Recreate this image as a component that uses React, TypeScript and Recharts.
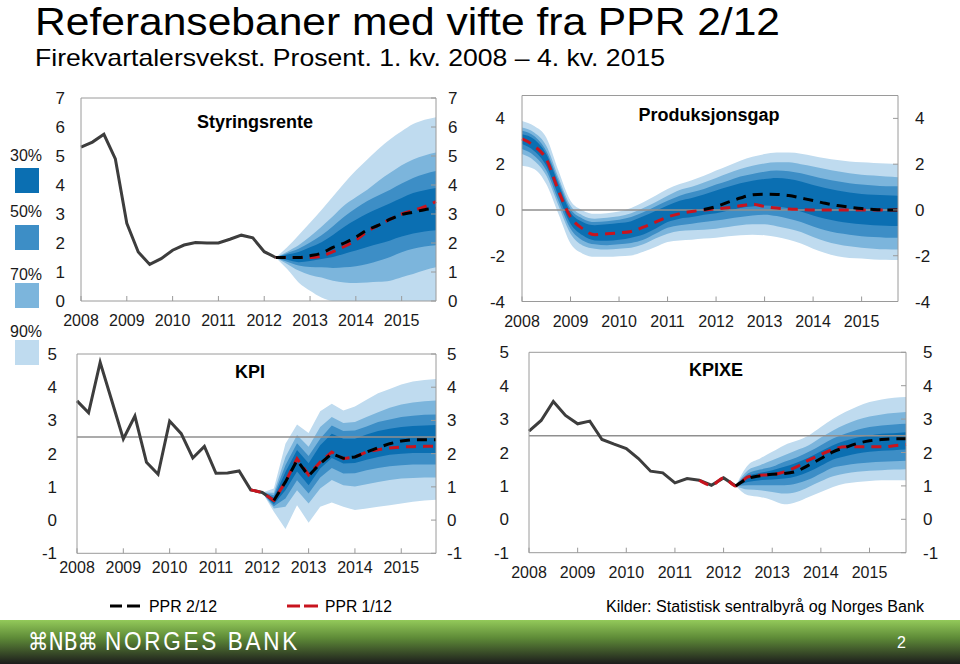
import React from 'react';
import { ComposedChart, Area, Line, XAxis, YAxis, ReferenceLine } from 'recharts';

const years = ['2008', '2009', '2010', '2011', '2012', '2013', '2014', '2015'];
const yearTicks = [0, 4, 8, 12, 16, 20, 24, 28];
const nQuarters = 32;

// Styringsrente (quarter index 0 = 1. kv. 2008)
const rateHistory = [5.31, 5.48, 5.75, 4.9, 2.68, 1.69, 1.26, 1.46, 1.75, 1.93, 2.02, 2.0, 2.0, 2.13, 2.27, 2.18, 1.7, 1.5];
const rateFanStart = 17;
const rateNew = [1.5, 1.5, 1.5, 1.56, 1.65, 1.85, 2.0, 2.2, 2.45, 2.62, 2.82, 2.98, 3.06, 3.15, 3.2];
const rateOld = [1.5, 1.5, 1.5, 1.5, 1.55, 1.7, 1.88, 2.1, 2.4, 2.62, 2.82, 3.0, 3.12, 3.25, 3.43];
const rateBands = {
  u90: [1.5, 1.85, 2.27, 2.7, 3.14, 3.6, 4.07, 4.5, 4.88, 5.25, 5.58, 5.85, 6.1, 6.25, 6.34],
  u70: [1.5, 1.7, 1.92, 2.22, 2.56, 2.92, 3.3, 3.58, 3.84, 4.15, 4.42, 4.68, 4.88, 5.02, 5.12],
  u50: [1.5, 1.65, 1.8, 2.02, 2.27, 2.58, 2.91, 3.2, 3.45, 3.65, 3.84, 4.05, 4.24, 4.38, 4.48],
  u30: [1.5, 1.6, 1.69, 1.85, 2.03, 2.28, 2.56, 2.8, 3.02, 3.2, 3.37, 3.55, 3.72, 3.82, 3.9],
  l30: [1.5, 1.42, 1.34, 1.38, 1.45, 1.52, 1.63, 1.74, 1.86, 1.97, 2.09, 2.22, 2.33, 2.4, 2.44],
  l50: [1.5, 1.35, 1.22, 1.17, 1.16, 1.14, 1.16, 1.2, 1.28, 1.39, 1.52, 1.68, 1.8, 1.88, 1.92],
  l70: [1.5, 1.28, 1.05, 0.9, 0.81, 0.7, 0.64, 0.62, 0.64, 0.66, 0.7, 0.82, 0.93, 1.06, 1.16],
  l90: [1.5, 1.1, 0.64, 0.35, 0.12, 0, 0, 0, 0, 0, 0, 0, 0, 0, 0],
};

// Produksjonsgap
const gapOld = [3.1, 2.8, 2.22, 0.85, -0.31, -0.82, -1.08, -1.04, -1.0, -0.94, -0.75, -0.53, -0.31, -0.16, -0.07, 0.0, 0.05, 0.1, 0.18, 0.25, 0.15, 0.08, 0.04, 0.02, 0.0, 0.0, 0.0, 0.0, 0.0, 0.0, 0.0, 0.0];
const gapNewStart = 15;
const gapNew = [0.02, 0.15, 0.34, 0.52, 0.66, 0.69, 0.68, 0.63, 0.52, 0.41, 0.29, 0.19, 0.12, 0.06, 0.02, 0.0, 0.0];
const gapBands = {
  u90: [3.89, 3.67, 3.17, 1.72, 0.4, -0.02, -0.17, -0.14, -0.07, 0.09, 0.34, 0.62, 0.91, 1.13, 1.3, 1.49, 1.72, 1.93, 2.15, 2.32, 2.44, 2.51, 2.51, 2.46, 2.36, 2.26, 2.18, 2.12, 2.08, 2.05, 2.03, 2.0],
  u70: [3.6, 3.38, 2.8, 1.43, 0.19, -0.24, -0.38, -0.34, -0.28, -0.14, 0.09, 0.34, 0.62, 0.87, 1.01, 1.2, 1.4, 1.6, 1.79, 1.93, 2.03, 2.08, 2.08, 2.0, 1.9, 1.79, 1.69, 1.6, 1.54, 1.5, 1.46, 1.43],
  u50: [3.46, 3.23, 2.58, 1.28, 0.04, -0.38, -0.53, -0.49, -0.43, -0.31, -0.1, 0.15, 0.4, 0.62, 0.77, 0.91, 1.11, 1.28, 1.46, 1.57, 1.67, 1.72, 1.69, 1.6, 1.47, 1.35, 1.25, 1.17, 1.11, 1.07, 1.04, 1.03],
  u30: [3.31, 3.09, 2.44, 1.13, -0.1, -0.53, -0.67, -0.63, -0.57, -0.49, -0.28, -0.05, 0.19, 0.4, 0.52, 0.67, 0.85, 1.01, 1.17, 1.28, 1.35, 1.4, 1.35, 1.24, 1.09, 0.96, 0.85, 0.76, 0.7, 0.66, 0.64, 0.62],
  l30: [2.88, 2.58, 1.93, 0.62, -0.6, -1.11, -1.33, -1.35, -1.3, -1.21, -1.07, -0.82, -0.53, -0.38, -0.31, -0.21, -0.14, -0.02, 0.09, 0.15, 0.19, 0.15, 0.07, -0.07, -0.24, -0.38, -0.49, -0.57, -0.63, -0.67, -0.69, -0.7],
  l50: [2.66, 2.37, 1.72, 0.4, -0.82, -1.33, -1.5, -1.54, -1.5, -1.44, -1.3, -1.04, -0.78, -0.67, -0.6, -0.53, -0.46, -0.38, -0.31, -0.24, -0.21, -0.27, -0.38, -0.53, -0.72, -0.89, -1.01, -1.08, -1.15, -1.18, -1.21, -1.22],
  l70: [2.44, 2.15, 1.5, 0.19, -1.04, -1.55, -1.69, -1.73, -1.69, -1.65, -1.5, -1.25, -1.04, -0.92, -0.89, -0.86, -0.82, -0.75, -0.67, -0.63, -0.63, -0.71, -0.82, -0.96, -1.18, -1.37, -1.5, -1.59, -1.65, -1.69, -1.72, -1.73],
  l90: [1.93, 1.79, 1.13, -0.17, -1.47, -1.91, -2.05, -2.05, -2.02, -1.99, -1.83, -1.62, -1.4, -1.33, -1.3, -1.25, -1.21, -1.15, -1.11, -1.08, -1.11, -1.18, -1.3, -1.47, -1.69, -1.88, -2.02, -2.1, -2.12, -2.16, -2.18, -2.19],
};

// KPI
const kpiHistory = [3.59, 3.23, 4.75, 3.6, 2.44, 3.13, 1.74, 1.38, 2.98, 2.6, 1.87, 2.22, 1.41, 1.42, 1.48, 0.91, 0.83, 0.59];
const kpiOldStart = 15;
const kpiOld = [0.91, 0.83, 0.59, 1.15, 1.85, 1.36, 1.75, 2.05, 1.85, 1.9, 2.05, 2.12, 2.17, 2.2, 2.21, 2.22, 2.22];
const kpiNewStart = 17;
const kpiNew = [0.59, 1.15, 1.8, 1.33, 1.7, 2.0, 1.86, 1.9, 2.05, 2.18, 2.3, 2.38, 2.42, 2.42, 2.42];
const kpiFanStart = 16;
const kpiBands = {
  u90: [0.83, 0.95, 2.3, 2.88, 2.62, 3.28, 3.5, 3.3, 3.42, 3.62, 3.82, 3.95, 4.08, 4.17, 4.22, 4.25],
  u70: [0.83, 0.82, 1.9, 2.56, 2.21, 2.8, 3.1, 2.92, 2.95, 3.1, 3.25, 3.38, 3.48, 3.54, 3.58, 3.6],
  u50: [0.83, 0.75, 1.65, 2.31, 1.93, 2.45, 2.85, 2.68, 2.7, 2.82, 2.95, 3.03, 3.1, 3.14, 3.17, 3.18],
  u30: [0.83, 0.68, 1.45, 2.11, 1.71, 2.25, 2.6, 2.45, 2.45, 2.58, 2.68, 2.75, 2.8, 2.83, 2.85, 2.86],
  l30: [0.83, 0.48, 0.9, 1.46, 1.05, 1.55, 1.87, 1.7, 1.72, 1.82, 1.9, 1.97, 2.0, 2.02, 2.02, 2.02],
  l50: [0.83, 0.42, 0.65, 1.2, 0.8, 1.28, 1.57, 1.4, 1.41, 1.5, 1.57, 1.62, 1.65, 1.67, 1.67, 1.67],
  l70: [0.83, 0.35, 0.4, 0.9, 0.5, 0.95, 1.21, 1.05, 1.01, 1.08, 1.15, 1.21, 1.25, 1.27, 1.28, 1.28],
  l90: [0.83, 0.25, -0.27, 0.45, -0.08, 0.4, 0.53, 0.4, 0.3, 0.35, 0.4, 0.45, 0.5, 0.55, 0.59, 0.61],
};

// KPIXE
const kpixeHistory = [2.64, 2.96, 3.53, 3.11, 2.86, 2.94, 2.39, 2.25, 2.12, 1.82, 1.44, 1.39, 1.09, 1.22, 1.17, 1.02, 1.24, 1.0];
const kpixeOldStart = 14;
const kpixeOld = [1.17, 1.02, 1.24, 1.0, 1.27, 1.32, 1.34, 1.42, 1.57, 1.77, 1.94, 2.09, 2.17, 2.17, 2.17, 2.17, 2.2, 2.24];
const kpixeFanStart = 17;
const kpixeNew = [1.0, 1.22, 1.3, 1.35, 1.37, 1.44, 1.62, 1.82, 2.02, 2.15, 2.27, 2.35, 2.39, 2.41, 2.41];
const kpixeBands = {
  u90: [1.0, 1.62, 1.82, 2.02, 2.22, 2.35, 2.51, 2.76, 3.01, 3.21, 3.38, 3.51, 3.59, 3.64, 3.66],
  u70: [1.0, 1.47, 1.62, 1.77, 1.92, 2.07, 2.22, 2.45, 2.66, 2.84, 2.98, 3.08, 3.14, 3.18, 3.21],
  u50: [1.0, 1.37, 1.49, 1.57, 1.72, 1.85, 2.02, 2.22, 2.42, 2.56, 2.68, 2.76, 2.81, 2.84, 2.86],
  u30: [1.0, 1.29, 1.39, 1.47, 1.57, 1.69, 1.85, 2.04, 2.22, 2.35, 2.45, 2.51, 2.56, 2.58, 2.61],
  l30: [1.0, 1.12, 1.17, 1.19, 1.22, 1.29, 1.42, 1.6, 1.79, 1.89, 1.97, 2.02, 2.05, 2.07, 2.09],
  l50: [1.0, 1.02, 1.02, 1.02, 1.02, 1.07, 1.19, 1.37, 1.55, 1.62, 1.67, 1.7, 1.72, 1.74, 1.75],
  l70: [1.0, 0.89, 0.87, 0.82, 0.77, 0.82, 0.97, 1.14, 1.29, 1.37, 1.42, 1.45, 1.47, 1.49, 1.5],
  l90: [1.0, 0.72, 0.67, 0.57, 0.45, 0.52, 0.67, 0.82, 0.97, 1.07, 1.12, 1.15, 1.17, 1.17, 1.17],
};

const C30 = '#0b6fb2';
const C50 = '#3d8ec6';
const C70 = '#7cb5dc';
const C90 = '#bfdbef';
const AXIS = '#9a9a9a';
const HIST = '#3d3d3d';
const RED = '#c8141e';
const FONT = '"Liberation Sans", Arial, sans-serif';

const makeRows = () => Array.from({ length: nQuarters }, (_, i) => ({ x: i } as any));
const put = (rows: any[], key: string, start: number, values: number[]) => {
  values.forEach((v, j) => { rows[start + j][key] = v; });
};
const putBands = (rows: any[], start: number, b: any) => {
  const sets: [string, number[], number[]][] = [
    ['b90', b.l90, b.u90], ['b70', b.l70, b.u70], ['b50', b.l50, b.u50], ['b30', b.l30, b.u30],
  ];
  sets.forEach(([key, lo, hi]) => lo.forEach((v, j) => { rows[start + j][key] = [v, hi[j]]; }));
};

const rateRows = makeRows();
put(rateRows, 'hist', 0, rateHistory);
put(rateRows, 'old', rateFanStart, rateOld);
put(rateRows, 'new', rateFanStart, rateNew);
putBands(rateRows, rateFanStart, rateBands);

const gapRows = makeRows();
put(gapRows, 'old', 0, gapOld);
put(gapRows, 'new', gapNewStart, gapNew);
putBands(gapRows, 0, gapBands);

const kpiRows = makeRows();
put(kpiRows, 'hist', 0, kpiHistory);
put(kpiRows, 'old', kpiOldStart, kpiOld);
put(kpiRows, 'new', kpiNewStart, kpiNew);
putBands(kpiRows, kpiFanStart, kpiBands);

const kpixeRows = makeRows();
put(kpixeRows, 'hist', 0, kpixeHistory);
put(kpixeRows, 'old', kpixeOldStart, kpixeOld);
put(kpixeRows, 'new', kpixeFanStart, kpixeNew);
putBands(kpixeRows, kpixeFanStart, kpixeBands);

const xTickStyle = { fontSize: 16, fill: '#1a1a1a', fontFamily: FONT };
const yTickStyle = { fontSize: 17, fill: '#1a1a1a', fontFamily: FONT };

function Panel(props: any) {
  const { rows, box, margin, domain, yTicks, curve, xGap, leftGap, rightGap, refs } = props;
  const bands: [string, string][] = [['b90', C90], ['b70', C70], ['b50', C50], ['b30', C30]];
  return (
    <div style={{ position: 'absolute', left: box.left, top: box.top }}>
      <ComposedChart width={box.width} height={box.height} data={rows} margin={margin}>
        <XAxis dataKey="x" type="number" domain={[0, 31]} ticks={yearTicks} interval={0}
          tickFormatter={(v: number) => years[v / 4]} tickSize={-5} tickMargin={xGap}
          height={30} stroke={AXIS} tick={xTickStyle} />
        <YAxis yAxisId="l" type="number" domain={domain} ticks={yTicks} interval={0}
          tickLine={false} tickSize={0} tickMargin={leftGap} width={40} stroke={AXIS}
          tick={yTickStyle} allowDataOverflow />
        <YAxis yAxisId="r" orientation="right" type="number" domain={domain} ticks={yTicks}
          interval={0} tickSize={-5} tickMargin={rightGap} width={40} stroke={AXIS}
          tick={yTickStyle} allowDataOverflow />
        <ReferenceLine yAxisId="l" y={domain[1]} stroke={AXIS} />
        {bands.map(([key, color]) => (
          <Area key={key} yAxisId="l" dataKey={key} type={curve} stroke="none" fill={color}
            fillOpacity={1} dot={false} activeDot={false} isAnimationActive={false} />
        ))}
        {refs.map((r: number) => (
          <ReferenceLine key={r} yAxisId="l" y={r} stroke="#8f8f8f" strokeWidth={1.5} />
        ))}
        <Line yAxisId="l" dataKey="hist" type="linear" stroke={HIST} strokeWidth={3}
          dot={false} activeDot={false} isAnimationActive={false} />
        <Line yAxisId="l" dataKey="old" type={curve} stroke={RED} strokeWidth={3}
          strokeDasharray="10 7" dot={false} activeDot={false} isAnimationActive={false} />
        <Line yAxisId="l" dataKey="new" type={curve} stroke="#000" strokeWidth={3}
          strokeDasharray="10 7" dot={false} activeDot={false} isAnimationActive={false} />
      </ComposedChart>
    </div>
  );
}

function Overlay() {
  const swatches: [string, string, number, number][] = [
    ['30%', C30, 161, 168], ['50%', C50, 217, 225], ['70%', C70, 280, 283], ['90%', C90, 337, 340],
  ];
  return (
    <svg width={960} height={664} style={{ position: 'absolute', left: 0, top: 0, pointerEvents: 'none' }}
      fontFamily={FONT}>
      <defs>
        <linearGradient id="foot" x1="0" y1="0" x2="0" y2="1">
          <stop offset="0" stopColor="#93c95a" />
          <stop offset="0.4" stopColor="#5f8c38" />
          <stop offset="1" stopColor="#1c1c1c" />
        </linearGradient>
      </defs>
      <text x={35} y={35} fontSize={38} fill="#000" textLength={745} lengthAdjust="spacingAndGlyphs">
        Referansebaner med vifte fra PPR 2/12
      </text>
      <text x={35} y={66} fontSize={24} fill="#000" textLength={630} lengthAdjust="spacingAndGlyphs">
        Firekvartalersvekst. Prosent. 1. kv. 2008 – 4. kv. 2015
      </text>
      {swatches.map(([label, color, ty, ry]) => (
        <g key={label}>
          <text x={10} y={ty} fontSize={16} fill="#1a1a1a">{label}</text>
          <rect x={15} y={ry} width={24} height={25} fill={color} />
        </g>
      ))}
      <text x={255} y={128} fontSize={18} fontWeight="bold" textAnchor="middle">Styringsrente</text>
      <text x={709} y={121} fontSize={18} fontWeight="bold" textAnchor="middle">Produksjonsgap</text>
      <text x={250} y={378} fontSize={18} fontWeight="bold" textAnchor="middle">KPI</text>
      <text x={716} y={376} fontSize={18} fontWeight="bold" textAnchor="middle">KPIXE</text>
      <line x1={110} y1={606} x2={122} y2={606} stroke="#000" strokeWidth={3} />
      <line x1={127} y1={606} x2={140} y2={606} stroke="#000" strokeWidth={3} />
      <text x={149} y={612} fontSize={16} textLength={68} lengthAdjust="spacingAndGlyphs">PPR 2/12</text>
      <line x1={287} y1={606} x2={300} y2={606} stroke={RED} strokeWidth={3} />
      <line x1={304} y1={606} x2={318} y2={606} stroke={RED} strokeWidth={3} />
      <text x={325} y={612} fontSize={16} textLength={67} lengthAdjust="spacingAndGlyphs">PPR 1/12</text>
      <text x={606} y={612} fontSize={16} textLength={318} lengthAdjust="spacingAndGlyphs">
        Kilder: Statistisk sentralbyrå og Norges Bank
      </text>
      <rect x={0} y={620} width={960} height={44} fill="url(#foot)" />
      <text x={28} y={650} fontSize={24} fill="#fff" fontFamily='"DejaVu Sans", sans-serif'
        textLength={70} lengthAdjust="spacingAndGlyphs">⌘NB⌘</text>
      <text x={105} y={650} fontSize={25} fill="#fff" letterSpacing={3} textLength={195}
        lengthAdjust="spacingAndGlyphs">NORGES BANK</text>
      <text x={897} y={648} fontSize={16} fill="#fff">2</text>
    </svg>
  );
}

export default function App() {
  return (
    <div style={{ position: 'absolute', left: 0, top: 0, width: 960, height: 664, background: '#fff', overflow: 'hidden' }}>
      <Panel rows={rateRows} box={{ left: 0, top: 80, width: 480, height: 260 }}
        margin={{ top: 18, right: 4, bottom: 9, left: 41 }} domain={[0, 7]} yTicks={[0, 1, 2, 3, 4, 5, 6, 7]}
        curve="monotone" xGap={19} leftGap={16} rightGap={17} refs={[]} />
      <Panel rows={gapRows} box={{ left: 480, top: 80, width: 480, height: 260 }}
        margin={{ top: 15.5, right: 22, bottom: 8.5, left: 2 }} domain={[-4, 5]} yTicks={[-4, -2, 0, 2, 4]}
        curve="monotone" xGap={19} leftGap={17} rightGap={22} refs={[0]} />
      <Panel rows={kpiRows} box={{ left: 0, top: 340, width: 480, height: 250 }}
        margin={{ top: 14, right: 4, bottom: 6.7, left: 37 }} domain={[-1, 5]} yTicks={[-1, 0, 1, 2, 3, 4, 5]}
        curve="linear" xGap={13.5} leftGap={20} rightGap={16} refs={[2.5]} />
      <Panel rows={kpixeRows} box={{ left: 480, top: 340, width: 480, height: 250 }}
        margin={{ top: 12.3, right: 14, bottom: 7.3, left: 9 }} domain={[-1, 5]} yTicks={[-1, 0, 1, 2, 3, 4, 5]}
        curve="monotone" xGap={19} leftGap={20} rightGap={22} refs={[2.5]} />
      <Overlay />
    </div>
  );
}
